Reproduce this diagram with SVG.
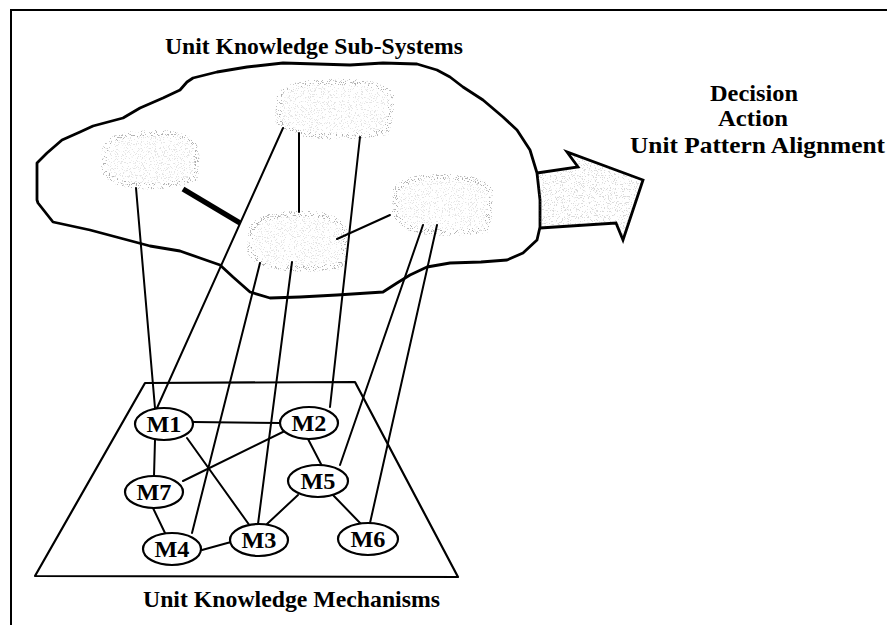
<svg xmlns="http://www.w3.org/2000/svg" width="887" height="625" viewBox="0 0 887 625">
<style>
.lbl{font-family:"Liberation Serif","Times New Roman",serif;font-weight:bold;fill:#000}
.ttl{font-size:23px}
.nd{font-size:23px;text-anchor:middle}
.ell{fill:#fff;stroke:#000;stroke-width:2.2}
.ln{stroke:#000;stroke-width:2;fill:none;stroke-linecap:round}
.blob{fill:#000;fill-opacity:0.22;stroke:#000;stroke-opacity:0.6;stroke-width:6}
</style>
<defs>
<filter id="speckle" filterUnits="userSpaceOnUse" x="0" y="0" width="887" height="625">
<feTurbulence type="fractalNoise" baseFrequency="0.85" numOctaves="2" seed="7" result="noise"/>
<feColorMatrix in="noise" type="matrix" values="0 0 0 0 0.25  0 0 0 0 0.25  0 0 0 0 0.25  16 0 0 0 -9.4" result="dots"/>
<feComposite in="dots" in2="SourceGraphic" operator="in"/>
</filter>
</defs>
<rect width="887" height="625" fill="#fff"/>
<!-- frame -->
<path d="M11,625 L11,10 L887,10" fill="none" stroke="#000" stroke-width="2"/>
<!-- titles -->
<text class="lbl ttl" x="165" y="54" textLength="298" lengthAdjust="spacingAndGlyphs">Unit Knowledge Sub-Systems</text>
<text class="lbl ttl" x="143" y="607" textLength="297" lengthAdjust="spacingAndGlyphs">Unit Knowledge Mechanisms</text>
<text class="lbl ttl" x="710" y="101" textLength="88" lengthAdjust="spacingAndGlyphs">Decision</text>
<text class="lbl ttl" x="718" y="126" textLength="70" lengthAdjust="spacingAndGlyphs">Action</text>
<text class="lbl ttl" x="630" y="153" textLength="255" lengthAdjust="spacingAndGlyphs">Unit Pattern Alignment</text>
<!-- big cloud -->
<g id="cloud">
<path d="M37,200 L37,163 L47,153 L62,140 L80,132 L93,126 L123,118 L140,108 L163,98 L180,90 L187,82 L193,78 L217,72 L247,67 L283,63 L317,64 L350,65 L383,63 L417,64 L437,70 L450,77 L463,87 L483,100 L503,117 L517,130 L530,150 L537,173 L540,200 L540,227 L537,240 L523,253 L507,260 L481,262 L450,263 L427,267 L410,275 L397,283 L383,292 L337,295 L300,297 L270,298 L250,292 L233,277 L220,265 L200,258 L180,251 L150,246 L120,238 L90,230 L53,222 L38,203 Z" fill="none" stroke="#000" stroke-width="2.8" stroke-linejoin="round"/>
</g>
<!-- speckled shapes -->
<g filter="url(#speckle)">
<path class="blob" d="M105,150 Q110,134 140,134 Q175,130 193,142 Q200,162 195,178 Q170,188 140,186 Q110,184 104,170 Z"/>
<path class="blob" d="M280,95 Q290,82 330,82 Q380,80 391,95 Q392,115 386,132 Q350,138 320,136 Q285,134 278,120 Z"/>
<path class="blob" d="M252,228 Q262,214 295,214 Q330,212 344,226 Q347,248 340,266 Q310,270 285,268 Q255,266 250,250 Z"/>
<path class="blob" d="M396,190 Q404,177 440,177 Q480,176 490,190 Q492,212 485,230 Q455,234 430,232 Q400,230 395,212 Z"/>
<path d="M538,173 L578,167 L567,152 L643,180 L623,240 L616,223 L540,228 Z" fill="#000" fill-opacity="0.3"/>
</g>
<g id="subsystem-A"><ellipse cx="150" cy="160" rx="48" ry="26" fill="none"/></g>
<g id="subsystem-B"><ellipse cx="334" cy="108" rx="57" ry="27" fill="none"/></g>
<g id="subsystem-C"><ellipse cx="297" cy="241" rx="48" ry="28" fill="none"/></g>
<g id="subsystem-D"><ellipse cx="442" cy="204" rx="48" ry="28" fill="none"/></g>
<g id="output-arrow">
<path d="M537,173 L578,167 L567,152 L643,180 L623,240 L616,223 L540,228" fill="none" stroke="#000" stroke-width="2.8" stroke-linejoin="miter"/>
</g>
<!-- trapezoid -->
<g id="mechanisms-plane">
<path d="M145,383 L355,382 L458,577 L35,576 Z" fill="none" stroke="#000" stroke-width="2.2" stroke-linejoin="round"/>
</g>
<!-- connectors -->
<g id="connectors">
<line x1="183" y1="189" x2="240" y2="223" stroke="#000" stroke-width="5.5" stroke-linecap="butt"/>
<line class="ln" x1="136" y1="188" x2="155" y2="408"/>
<line class="ln" x1="283" y1="128" x2="157" y2="408"/>
<line class="ln" x1="299" y1="133" x2="299" y2="212"/>
<line class="ln" x1="360" y1="137" x2="330" y2="407"/>
<line class="ln" x1="337" y1="239" x2="390" y2="215"/>
<line class="ln" x1="260" y1="263" x2="192" y2="533"/>
<line class="ln" x1="292" y1="262" x2="258" y2="524"/>
<line class="ln" x1="423" y1="225" x2="340" y2="465"/>
<line class="ln" x1="437" y1="225" x2="370" y2="523"/>
<line class="ln" x1="193" y1="422" x2="281" y2="423"/>
<line class="ln" x1="155" y1="440" x2="154" y2="476"/>
<line class="ln" x1="187" y1="438" x2="250" y2="526"/>
<line class="ln" x1="293" y1="427" x2="183" y2="481"/>
<line class="ln" x1="308" y1="439" x2="322" y2="466"/>
<line class="ln" x1="153" y1="508" x2="165" y2="533"/>
<line class="ln" x1="202" y1="550" x2="231" y2="542"/>
<line class="ln" x1="298" y1="495" x2="267" y2="524"/>
<line class="ln" x1="332" y1="494" x2="362" y2="525"/>
</g>
<g id="M1"><ellipse class="ell" cx="164" cy="424" rx="29" ry="16"/><text class="lbl nd" x="164" y="432" textLength="35" lengthAdjust="spacingAndGlyphs">M1</text></g>
<g id="M2"><ellipse class="ell" cx="309" cy="423" rx="29" ry="16"/><text class="lbl nd" x="309" y="431" textLength="35" lengthAdjust="spacingAndGlyphs">M2</text></g>
<g id="M7"><ellipse class="ell" cx="154" cy="492" rx="29" ry="16"/><text class="lbl nd" x="154" y="500" textLength="35" lengthAdjust="spacingAndGlyphs">M7</text></g>
<g id="M5"><ellipse class="ell" cx="318" cy="481" rx="30" ry="16"/><text class="lbl nd" x="318" y="489" textLength="35" lengthAdjust="spacingAndGlyphs">M5</text></g>
<g id="M4"><ellipse class="ell" cx="172" cy="549" rx="29" ry="16"/><text class="lbl nd" x="172" y="557" textLength="35" lengthAdjust="spacingAndGlyphs">M4</text></g>
<g id="M3"><ellipse class="ell" cx="259" cy="540" rx="29" ry="16"/><text class="lbl nd" x="259" y="548" textLength="35" lengthAdjust="spacingAndGlyphs">M3</text></g>
<g id="M6"><ellipse class="ell" cx="368" cy="539" rx="30" ry="16"/><text class="lbl nd" x="368" y="547" textLength="35" lengthAdjust="spacingAndGlyphs">M6</text></g>
</svg>
